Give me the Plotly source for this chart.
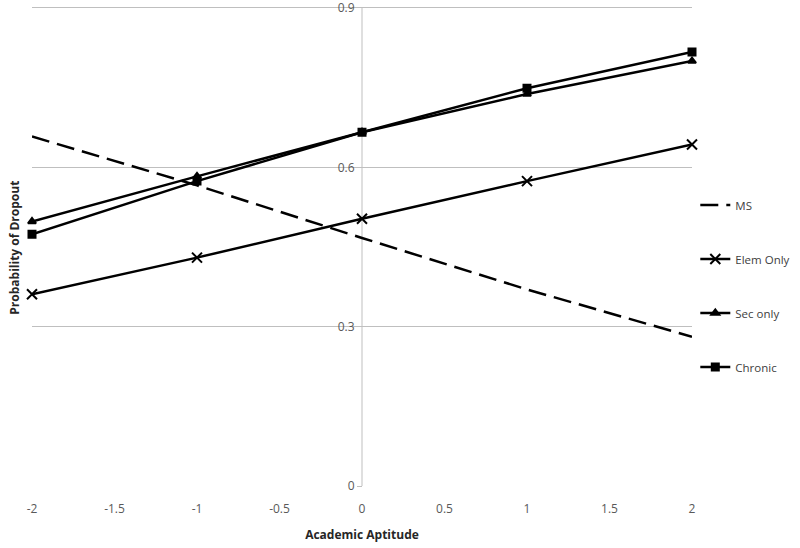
import plotly.graph_objects as go

aptitude = [-2, -1, 0, 1, 2]
ms = [0.658, 0.566, 0.467, 0.370, 0.281]
elem_only = [0.361, 0.430, 0.503, 0.574, 0.643]
sec_only = [0.498, 0.583, 0.666, 0.738, 0.800]
chronic = [0.474, 0.574, 0.666, 0.749, 0.817]

x_ticks = [-2, -1.5, -1, -0.5, 0, 0.5, 1, 1.5, 2]
x_tick_text = ['-2', '-1.5', '-1', '-0.5', '0', '0.5', '1', '1.5', '2']
y_ticks = [0, 0.3, 0.6, 0.9]
y_tick_text = ['0', '0.3', '0.6', '0.9']

TEXT = '#595959'
GRID = '#bfbfbf'
FONT = 'Open Sans'

series = [
    ('MS', ms, None, 0),
    ('Elem Only', elem_only, 'x-thin', 10),
    ('Sec only', sec_only, 'triangle-up', 7),
    ('Chronic', chronic, 'square', 7),
]

fig = go.Figure()
for i, (name, ys, symbol, size) in enumerate(series):
    line = dict(color='black', width=2.5)
    if symbol is None:
        line['dash'] = '18px,8px'
        mode = 'lines'
        marker = None
    else:
        mode = 'lines+markers'
        marker = dict(symbol=symbol, size=size, color='black',
                      line=dict(color='black', width=2))
    fig.add_trace(go.Scatter(
        x=aptitude, y=ys, name=name, mode=mode, cliponaxis=False,
        line=line, marker=marker, legendgroup='g%d' % i))

fig.update_layout(
    width=800, height=548,
    margin=dict(l=32, r=108, t=0, b=62, autoexpand=False),
    paper_bgcolor='white', plot_bgcolor='white',
    font=dict(family=FONT, size=12, color=TEXT),
    legend=dict(
        x=1.005, xanchor='left', y=0.608, yanchor='top',
        traceorder='grouped', tracegroupgap=35,
        font=dict(size=11.5, color='#404040'),
        itemwidth=30),
    xaxis=dict(
        range=[-2, 2], tickvals=x_ticks, ticktext=x_tick_text,
        showgrid=False, zeroline=False, showline=False,
        ticks='outside', ticklen=12, tickcolor='rgba(0,0,0,0)',
        automargin=False,
        tickfont=dict(size=12, color=TEXT),
        title=dict(text='<b>Academic Aptitude</b>',
                   font=dict(size=12, color='#262626'), standoff=14)),
    yaxis=dict(
        range=[0, 0.915], tickvals=y_ticks, ticktext=y_tick_text,
        anchor='free', position=0.5, automargin=False,
        ticklabeloverflow='allow',
        showgrid=True, gridcolor=GRID, gridwidth=1,
        zeroline=False, showline=False,
        ticks='outside', ticklen=5, tickcolor=GRID,
        tickfont=dict(size=12, color=TEXT)),
)

# vertical axis line at x = 0, from 0 to 0.9
fig.add_shape(type='line', xref='x', yref='y', x0=0, x1=0, y0=0, y1=0.9,
              line=dict(color=GRID, width=1), layer='below')

fig.add_annotation(
    text='<b>Probability of Dropout</b>', textangle=-90,
    xref='paper', yref='paper', x=-0.026, y=0.49,
    xanchor='center', yanchor='middle', showarrow=False,
    font=dict(size=12, color='#262626'))

fig.write_html('out.html', config={'displayModeBar': False},
               post_script="document.body.style.margin='0px';")
